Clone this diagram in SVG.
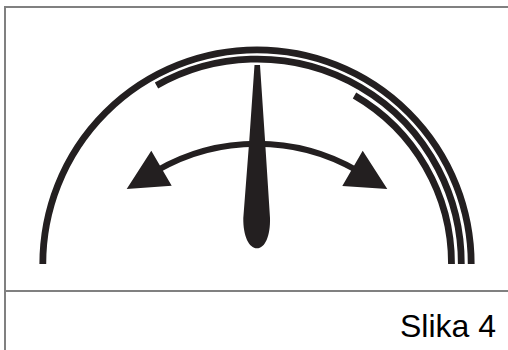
<svg xmlns="http://www.w3.org/2000/svg" width="508" height="350" viewBox="0 0 508 350">
<style>
.b{stroke:#808080;stroke-width:2;fill:none}
.a{fill:none;stroke:#231f20;stroke-width:6.800}
.s{fill:#231f20}
</style>
<rect width="508" height="350" fill="#fff"/>
<g id="frame"><path class="b" d="M5 350V7H508M5 291H508"/></g>
<g id="arcs">
<path class="a" d="M42.800 264A214.200 214.200 0 0 1 471.200 264"/>
<path class="a" d="M156.500 85.500A204.300 204.300 0 0 1 461.300 264"/>
<path class="a" d="M354.500 95.500A194.500 194.500 0 0 1 451.500 264"/>
</g>
<g id="indicator">
<path class="a" style="stroke-width:6" d="M157 170.500A200 200 0 0 1 357 170.500"/>
<path class="s" d="M151.300 150.700L171.700 185.700L126.700 189ZM362.700 150.700L387.300 189L342.300 186Z"/>
</g>
<g id="needle"><path class="s" d="M254.500 65H260L265 140L270 218C270.500 236 265 248.300 257 248.300C249 248.300 243 236 243.300 218L249.300 140Z"/></g>
<g id="caption"><text x="400" y="337" font-family="Liberation Sans, Arial, sans-serif" font-size="32" fill="#000">Slika 4</text></g>
</svg>
